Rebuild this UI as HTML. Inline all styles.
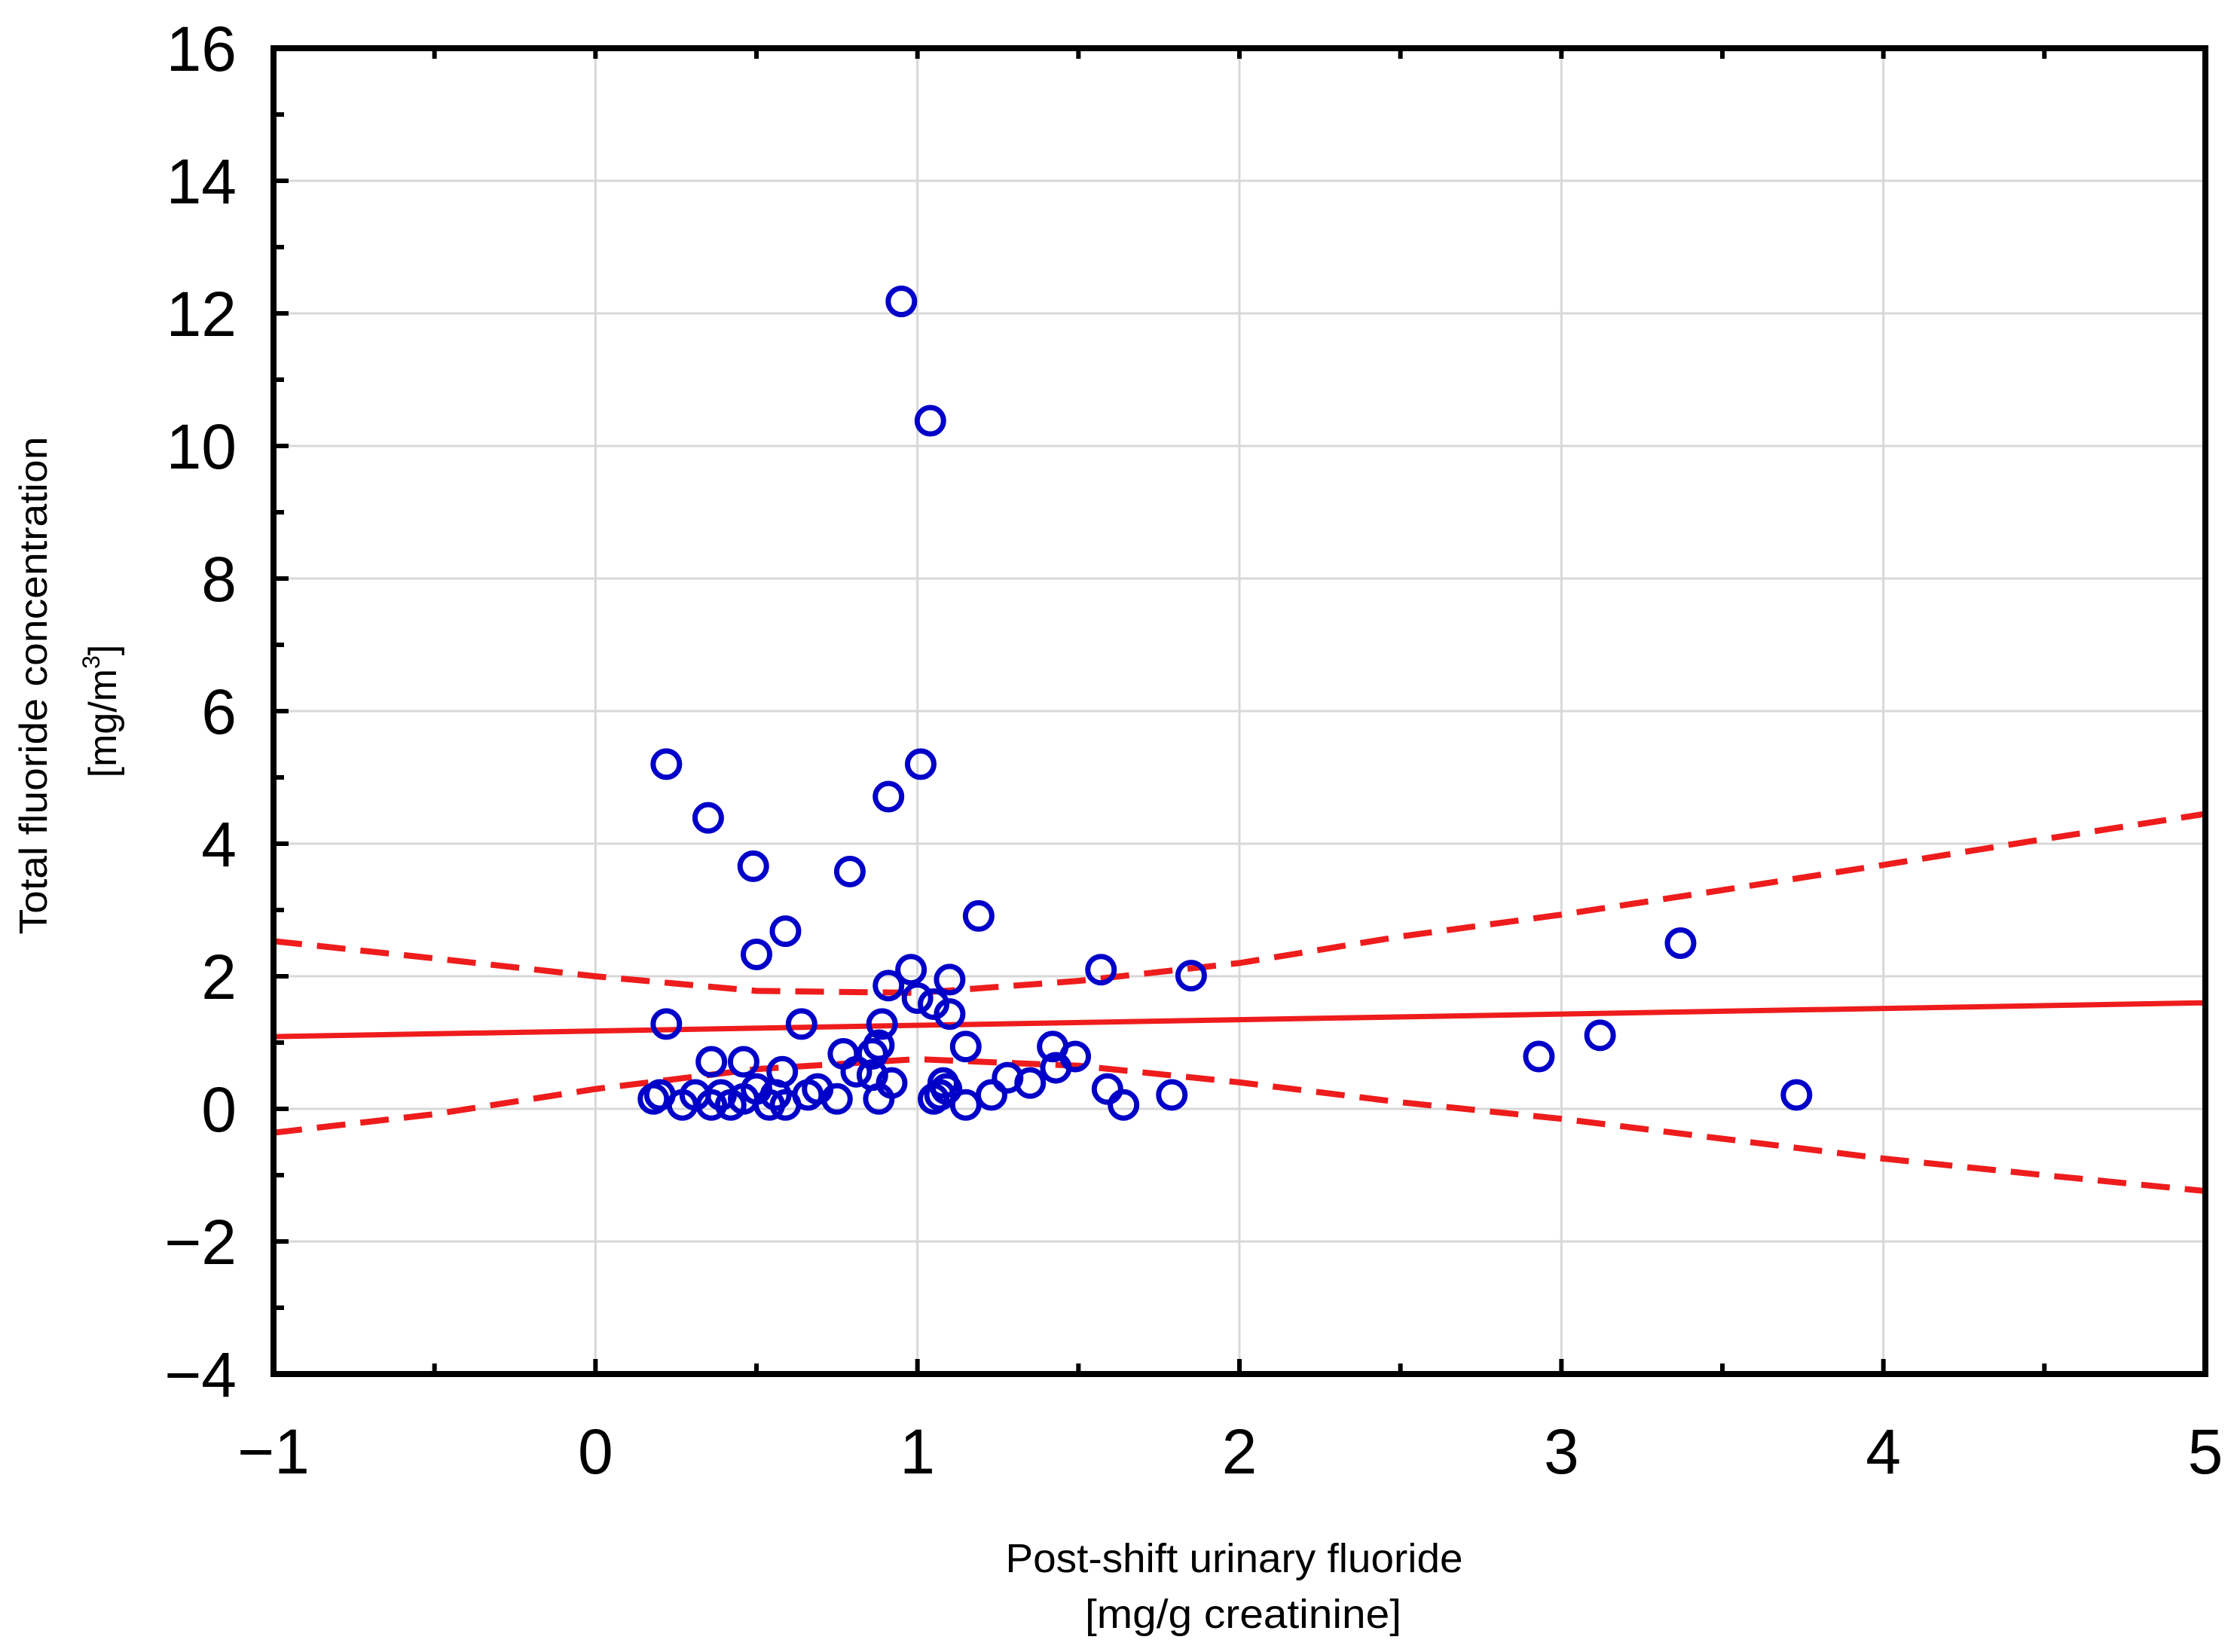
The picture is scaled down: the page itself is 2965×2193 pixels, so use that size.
<!DOCTYPE html>
<html><head><meta charset="utf-8"><style>
html,body{margin:0;padding:0;background:#fff;}
svg{display:block;font-family:"Liberation Sans",Arial,sans-serif;}
</style></head><body>
<svg id="chart" width="2965" height="2193" viewBox="0 0 2965 2193" xmlns="http://www.w3.org/2000/svg">
<g id="grid"></g>
<g id="fit"></g>
<g id="pts"></g>
<g id="axes"></g>
<text x="1638" y="2087" font-size="54" text-anchor="middle" textLength="607" lengthAdjust="spacingAndGlyphs">Post-shift urinary fluoride</text>
<text x="1650" y="2161" font-size="54" text-anchor="middle" textLength="420" lengthAdjust="spacingAndGlyphs">[mg/g  creatinine]</text>
<text transform="translate(62,910) rotate(-90)" font-size="52" text-anchor="middle" textLength="661" lengthAdjust="spacingAndGlyphs">Total fluoride concentration</text>
<text transform="translate(154,944) rotate(-90)" font-size="52" text-anchor="middle">[mg/m<tspan font-size="32" dy="-22">3</tspan><tspan dy="22">]</tspan></text>
</svg>
<script>
const xTicks=[-1,0,1,2,3,4,5];
const yTicks=[-4,-2,0,2,4,6,8,10,12,14,16];
const xVals=[0.95,1.04,0.22,0.35,0.49,0.91,1.01,0.79,1.19,0.59,0.50,1.57,1.85,3.37,3.12,2.93,3.73,0.98,0.91,1.10,1.00,1.05,1.10,0.22,0.64,0.89,1.15,1.42,1.49,1.43,1.35,1.28,0.36,0.46,0.58,0.77,0.81,0.86,0.88,0.86,0.92,0.88,0.75,0.69,0.66,0.18,0.20,0.27,0.31,0.36,0.39,0.42,0.46,0.50,0.54,0.56,0.59,1.05,1.08,1.07,1.09,1.15,1.23,1.59,1.64,1.79];
const yVals=[12.18,10.38,5.2,4.39,3.66,4.71,5.2,3.58,2.91,2.68,2.33,2.10,2.01,2.5,1.11,0.79,0.21,2.10,1.86,1.95,1.67,1.58,1.43,1.28,1.28,1.28,0.94,0.94,0.79,0.62,0.39,0.47,0.71,0.71,0.56,0.83,0.56,0.83,0.96,0.51,0.39,0.15,0.15,0.30,0.21,0.15,0.21,0.06,0.21,0.06,0.21,0.06,0.15,0.30,0.06,0.21,0.06,0.15,0.39,0.21,0.30,0.06,0.21,0.30,0.06,0.21];
const fitX=[-1,5];
const fitY=[1.09,1.6];
const bandX=[-1,-0.5,0,0.5,1,1.5,2,2.5,3,3.5,4,4.5,5];
const upperY=[2.53,2.27,2.0,1.78,1.75,1.93,2.2,2.6,2.93,3.3,3.68,4.07,4.45];
const lowerY=[-0.36,-0.08,0.3,0.6,0.75,0.65,0.4,0.1,-0.15,-0.45,-0.75,-1.0,-1.24];

const L=363,R=2927,T=64,B=1824;
const X0=-1,X1=5,Y0=-4,Y1=16;
const sx=v=>L+(v-X0)/(X1-X0)*(R-L);
const sy=v=>B-(v-Y0)/(Y1-Y0)*(B-T);
const NS="http://www.w3.org/2000/svg";
function mk(tag,parent,attrs){const e=document.createElementNS(NS,tag);for(const k in attrs)e.setAttribute(k,attrs[k]);parent.appendChild(e);return e;}
const grid=document.getElementById('grid'),fit=document.getElementById('fit'),pts=document.getElementById('pts'),axes=document.getElementById('axes');

xTicks.forEach(t=>{
  if(t>X0&&t<X1){const g=mk('line',grid,{x1:sx(t),x2:sx(t),y1:T,y2:B,stroke:'#d8d8d8','stroke-width':3});
  
  }
  const lb=mk('text',axes,{x:sx(t),y:1956,'font-size':84,'text-anchor':'middle'});
  
  
  lb.textContent=(t<0?'\u2212':'')+Math.abs(t);
});
yTicks.forEach(t=>{
  if(t>Y0&&t<Y1){const g=mk('line',grid,{x1:L,x2:R,y1:sy(t),y2:sy(t),stroke:'#d8d8d8','stroke-width':3});
  
  }
  const lb=mk('text',axes,{x:314,y:sy(t)+30,'font-size':84,'text-anchor':'end'});
  
  
  lb.textContent=(t<0?'\u2212':'')+Math.abs(t);
});

const line=mk('line',fit,{x1:sx(fitX[0]),y1:sy(fitY[0]),x2:sx(fitX[1]),y2:sy(fitY[1]),stroke:'#ee1c1c','stroke-width':7});


[[upperY,'upper-confidence-band'],[lowerY,'lower-confidence-band']].forEach(([arr,name])=>{
  const p=mk('polyline',fit,{points:bandX.map((x,i)=>sx(x)+','+sy(arr[i])).join(' '),fill:'none',stroke:'#ee1c1c','stroke-width':8,'stroke-dasharray':'38 20'});
  
  
});

xVals.forEach((x,i)=>{
  const c=mk('circle',pts,{cx:sx(x),cy:sy(yVals[i]),r:17.5,fill:'none',stroke:'#0000c8','stroke-width':7});
  
  
});

const frame=mk('rect',axes,{x:L,y:T,width:R-L,height:B-T,fill:'none',stroke:'#000','stroke-width':8});


for(let v=Y0+1;v<Y1;v+=1){
  const len=(v%2===0)?20:14;
  const tk=mk('line',axes,{x1:L,x2:L+len,y1:sy(v),y2:sy(v),stroke:'#000','stroke-width':6});
  
  
}
for(let v=X0+0.5;v<X1;v+=0.5){
  const len=(v%1===0)?20:14;
  const tk=mk('line',axes,{x1:sx(v),x2:sx(v),y1:B,y2:B-len,stroke:'#000','stroke-width':6});
  
  
  const tk2=mk('line',axes,{x1:sx(v),x2:sx(v),y1:T,y2:T+14,stroke:'#000','stroke-width':6});
  
  
}
</script>
</body></html>
